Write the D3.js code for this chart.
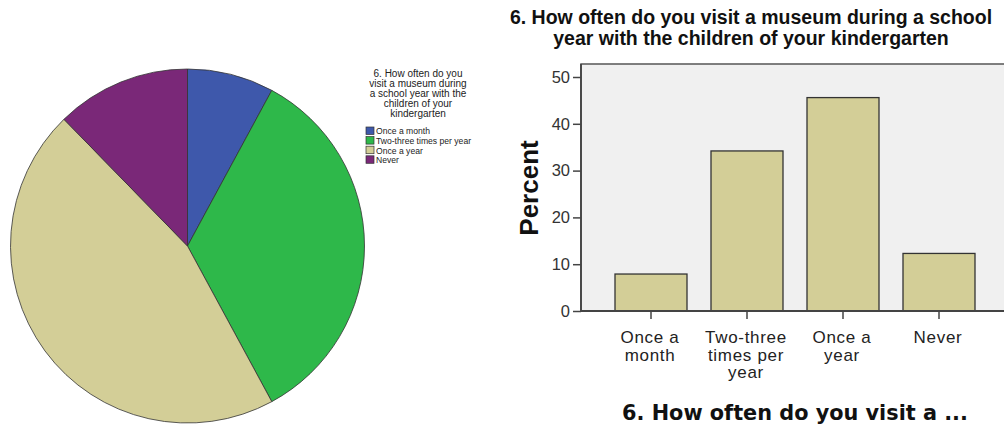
<!DOCTYPE html>
<html><head><meta charset="utf-8">
<script src="https://cdn.jsdelivr.net/npm/d3@7"></script>
<style>body{margin:0;background:#fff}svg{display:block}</style>
</head><body>
<svg id="c" width="1004" height="425"></svg>
<script>
const categories = ["Once a month", "Two-three times per year", "Once a year", "Never"];
const percents = [7.9, 34.2, 45.6, 12.3];
const tickLabels = [["Once a", "month"], ["Two-three", "times per", "year"], ["Once a", "year"], ["Never"]];
const yTicks = [0, 10, 20, 30, 40, 50];
const pieColors = ["#3e58ab", "#2eb84a", "#d3ce97", "#7a2878"];
const titleLines = ["6. How often do you visit a museum during a school", "year with the children of your kindergarten"];
const legendTitle = ["6. How often do you", "visit a museum during", "a school year with the", "children of your", "kindergarten"];
const xAxisTitle = "6. How often do you visit a ...";

const svg = d3.select("#c");

// ---- Pie ----
const pie = d3.pie().sort(null).value(d => d)(percents);
const arc = d3.arc().innerRadius(0).outerRadius(177);
const pg = svg.append("g").attr("transform", "translate(187.5,246)");
pg.selectAll("path").data(pie).join("path")
  .attr("d", arc).attr("fill", (d, i) => pieColors[i])
  .attr("stroke", "#333").attr("stroke-width", 0.8);

// legend
const lg = svg.append("g").attr("font-family", "Liberation Sans, Arial, sans-serif").attr("fill", "#222");
lg.selectAll("text.t").data(legendTitle).join("text").attr("class", "t")
  .attr("x", 418).attr("y", (d, i) => 77 + i * 10)
  .attr("text-anchor", "middle").attr("font-size", 10).text(d => d);
const li = lg.selectAll("g.it").data(categories).join("g").attr("class", "it")
  .attr("transform", (d, i) => `translate(366,${127 + i * 9.6})`);
li.append("rect").attr("width", 8).attr("height", 7.5)
  .attr("fill", (d, i) => pieColors[i]).attr("stroke", "#333").attr("stroke-width", 0.7);
li.append("text").attr("x", 10).attr("y", 7.3).attr("font-size", 8.6).text(d => d);

// ---- Bar chart ----
const x = d3.scaleBand().domain(categories).range([603, 987]).paddingInner(0.25).paddingOuter(0.125);
const y = d3.scaleLinear().domain([0, 50]).range([311, 77]);
const plotTop = 64, plotLeft = 581;

svg.append("rect").attr("x", plotLeft).attr("y", plotTop).attr("width", 1004 - plotLeft + 5)
  .attr("height", y(0) - plotTop).attr("fill", "#f0f0f0").attr("stroke", "#555").attr("stroke-width", 1.5);

svg.selectAll("rect.bar").data(percents).join("rect").attr("class", "bar")
  .attr("x", (d, i) => x(categories[i])).attr("y", d => y(d))
  .attr("width", x.bandwidth()).attr("height", d => y(0) - y(d))
  .attr("fill", "#d3ce97").attr("stroke", "#333").attr("stroke-width", 1.3);

const font = "Liberation Sans, Arial, sans-serif";
const ya = svg.append("g").attr("transform", `translate(${plotLeft},0)`)
  .call(d3.axisLeft(y).tickValues(yTicks).tickSize(8).tickPadding(3));
ya.select(".domain").remove();
ya.selectAll("line").attr("stroke", "#444").attr("stroke-width", 1.5);
ya.selectAll("text").attr("font-family", font).attr("font-size", 16.5).attr("fill", "#333");
svg.append("line").attr("x1", plotLeft).attr("x2", plotLeft).attr("y1", plotTop).attr("y2", y(0))
  .attr("stroke", "#444").attr("stroke-width", 1.8);

const xa = svg.append("g").attr("transform", `translate(0,${y(0)})`)
  .call(d3.axisBottom(x).tickSize(8).tickFormat(""));
xa.select(".domain").remove();
xa.selectAll("line").attr("stroke", "#444").attr("stroke-width", 1.5);
svg.append("line").attr("x1", plotLeft).attr("x2", 1004).attr("y1", y(0)).attr("y2", y(0))
  .attr("stroke", "#444").attr("stroke-width", 1.8);

const tl = svg.append("g").attr("font-family", font).attr("font-size", 17).attr("letter-spacing", 0.7)
  .attr("fill", "#222").attr("text-anchor", "middle");
categories.forEach((c, i) => {
  tl.append("text").attr("x", x(c) + x.bandwidth() / 2 - 1).attr("y", 343)
    .selectAll("tspan").data(tickLabels[i]).join("tspan")
    .attr("x", x(c) + x.bandwidth() / 2 - 1).attr("dy", (d, j) => j === 0 ? 0 : 17.5).text(d => d);
});

svg.append("text").attr("transform", "translate(538,188) rotate(-90)")
  .attr("text-anchor", "middle").attr("font-family", font).attr("font-weight", "bold")
  .attr("font-size", 26).attr("fill", "#111").text("Percent");

svg.append("g").attr("font-family", font).attr("font-weight", "bold").attr("font-size", 19.5)
  .attr("fill", "#111").attr("text-anchor", "middle")
  .selectAll("text").data(titleLines).join("text")
  .attr("x", 751).attr("y", (d, i) => 24 + i * 21).text(d => d);

svg.append("text").attr("x", 795).attr("y", 420).attr("text-anchor", "middle")
  .attr("font-family", "DejaVu Sans, sans-serif").attr("font-weight", "bold")
  .attr("font-size", 20.8).attr("fill", "#111").text(xAxisTitle);
</script>
</body></html>
